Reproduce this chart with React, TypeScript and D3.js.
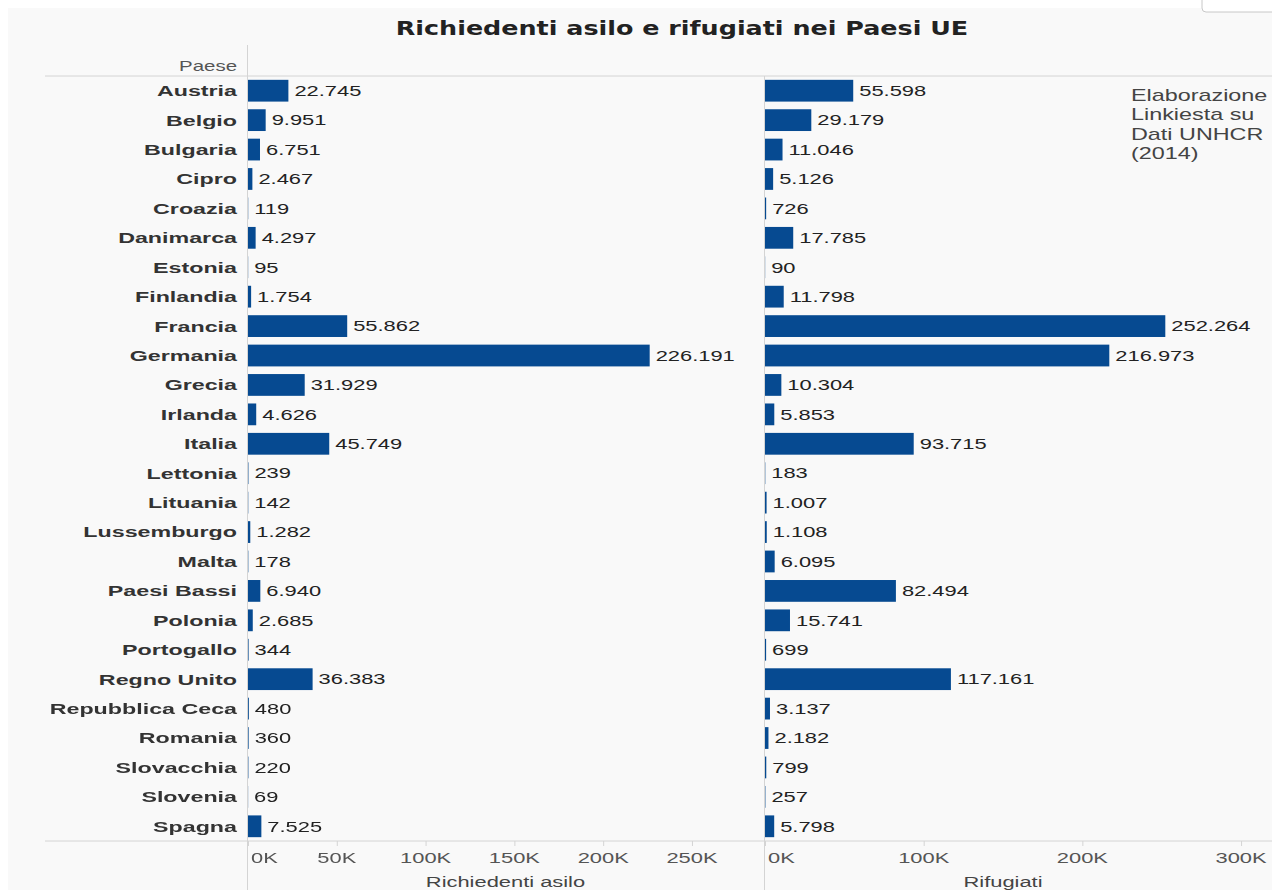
import { useRef, useEffect } from 'react';
import * as d3 from 'd3';

// Dati UNHCR 2014
const paesi = [
  'Austria', 'Belgio', 'Bulgaria', 'Cipro', 'Croazia', 'Danimarca', 'Estonia',
  'Finlandia', 'Francia', 'Germania', 'Grecia', 'Irlanda', 'Italia', 'Lettonia',
  'Lituania', 'Lussemburgo', 'Malta', 'Paesi Bassi', 'Polonia', 'Portogallo',
  'Regno Unito', 'Repubblica Ceca', 'Romania', 'Slovacchia', 'Slovenia', 'Spagna',
];

const richiedentiAsilo = [
  22745, 9951, 6751, 2467, 119, 4297, 95, 1754, 55862, 226191, 31929, 4626, 45749,
  239, 142, 1282, 178, 6940, 2685, 344, 36383, 480, 360, 220, 69, 7525,
];

const rifugiati = [
  55598, 29179, 11046, 5126, 726, 17785, 90, 11798, 252264, 216973, 10304, 5853, 93715,
  183, 1007, 1108, 6095, 82494, 15741, 699, 117161, 3137, 2182, 799, 257, 5798,
];

const ticksAsilo = [0, 50000, 100000, 150000, 200000, 250000];
const ticksRifugiati = [0, 100000, 200000, 300000];

const noteLines = ['Elaborazione', 'Linkiesta su', 'Dati UNHCR', '(2014)'];

const W = 1272;
const H = 890;
const BAR = '#064a91';
const RULE = '#d4d4d4';
const SX = 1.46; // the source picture is stretched horizontally
const FONT = '"Liberation Sans", Arial, sans-serif';

const itFormat = d3.formatLocale({
  decimal: ',',
  thousands: '.',
  grouping: [3],
  currency: ['€', ''],
}).format(',d');

export default function App() {
  const svgRef = useRef<SVGSVGElement>(null);

  useEffect(() => {
    if (!svgRef.current) return;
    const svg = d3.select(svgRef.current);
    svg.selectAll('*').remove();

    const g = svg.append('g');

    g.append('rect')
      .attr('width', W).attr('height', H)
      .attr('fill', '#ffffff');
    g.append('rect')
      .attr('x', 8).attr('y', 8)
      .attr('width', W).attr('height', H)
      .attr('fill', '#f9f9f9');

    // small floating box in the top-right corner
    g.append('rect')
      .attr('x', 1202).attr('y', -20)
      .attr('width', 90).attr('height', 32)
      .attr('rx', 4)
      .attr('fill', '#ffffff')
      .attr('stroke', '#c8c8c8');

    const addText = (
      parent: d3.Selection<SVGGElement, unknown, null, undefined>,
      x: number,
      y: number,
      str: string,
      opts: { size?: number; weight?: string; anchor?: string; fill?: string; sx?: number; family?: string } = {}
    ) =>
      parent
        .append('text')
        .attr('transform', `translate(${x},${y}) scale(${opts.sx ?? SX},1)`)
        .attr('dy', '0.35em')
        .attr('text-anchor', opts.anchor ?? 'start')
        .attr('font-family', opts.family ?? FONT)
        .attr('font-size', opts.size ?? 15)
        .attr('font-weight', opts.weight ?? 'normal')
        .attr('fill', opts.fill ?? '#333')
        .text(str);

    // title
    addText(g, 682, 28, 'Richiedenti asilo e rifugiati nei Paesi UE', {
      size: 20,
      weight: 'bold',
      anchor: 'middle',
      fill: '#222',
      sx: 1.27,
      family: '"DejaVu Sans", Verdana, sans-serif',
    });

    const top = 76;
    const bottom = 841;
    const labelRight = 237;

    const y = d3.scaleBand<string>()
      .domain(paesi)
      .range([top, bottom])
      .paddingInner(0.26)
      .paddingOuter(0.13);

    const xL = d3.scaleLinear().domain([0, 290000]).range([248, 763]);
    const xR = d3.scaleLinear().domain([0, 319500]).range([765, 1272]);

    // rules
    g.append('line').attr('x1', 45).attr('x2', W).attr('y1', top).attr('y2', top).attr('stroke', RULE);
    g.append('line').attr('x1', 45).attr('x2', W).attr('y1', bottom).attr('y2', bottom).attr('stroke', RULE);
    g.append('line').attr('x1', 247.5).attr('x2', 247.5).attr('y1', 45).attr('y2', H).attr('stroke', RULE);
    g.append('line').attr('x1', 764.5).attr('x2', 764.5).attr('y1', top).attr('y2', H).attr('stroke', RULE);

    // header
    addText(g, labelRight, 66, 'Paese', { size: 14, anchor: 'end', fill: '#555' });

    // category labels
    paesi.forEach((p) => {
      addText(g, labelRight, (y(p) ?? 0) + y.bandwidth() / 2, p, {
        size: 15.5,
        sx: 1.5,
        weight: 'bold',
        anchor: 'end',
        fill: '#333',
      });
    });

    const panels = [
      { x: xL, values: richiedentiAsilo, ticks: ticksAsilo, title: 'Richiedenti asilo', titleAt: 145000 },
      { x: xR, values: rifugiati, ticks: ticksRifugiati, title: 'Rifugiati', titleAt: 150000 },
    ];

    panels.forEach(({ x, values, ticks, title, titleAt }) => {
      const pane = g.append('g');

      pane.selectAll('rect.bar')
        .data(values)
        .join('rect')
        .attr('class', 'bar')
        .attr('x', x(0))
        .attr('y', (_, i) => y(paesi[i]) ?? 0)
        .attr('width', (d) => x(d) - x(0))
        .attr('height', y.bandwidth())
        .attr('fill', BAR);

      values.forEach((v, i) => {
        addText(pane, x(v) + 6, (y(paesi[i]) ?? 0) + y.bandwidth() / 2, itFormat(v), { fill: '#222' });
      });

      // axis ticks
      ticks.forEach((t, i) => {
        pane.append('line')
          .attr('x1', x(t) + 0.5).attr('x2', x(t) + 0.5)
          .attr('y1', bottom).attr('y2', bottom + 5)
          .attr('stroke', RULE);
        const lbl = `${t / 1000}K`;
        if (i === 0) addText(pane, x(t) + 3, 858, lbl, { fill: '#555' });
        else addText(pane, x(t), 858, lbl, { anchor: 'middle', fill: '#555' });
      });

      addText(pane, x(titleAt), 882, title, { anchor: 'middle', fill: '#444' });
    });

    // source note
    noteLines.forEach((line, i) => {
      addText(g, 1131, 95 + i * 19.5, line, { size: 16, fill: '#444' });
    });
  }, []);

  return (
    <svg
      ref={svgRef}
      width={W}
      height={H}
      style={{ position: 'fixed', left: 0, top: 0, display: 'block' }}
    />
  );
}
